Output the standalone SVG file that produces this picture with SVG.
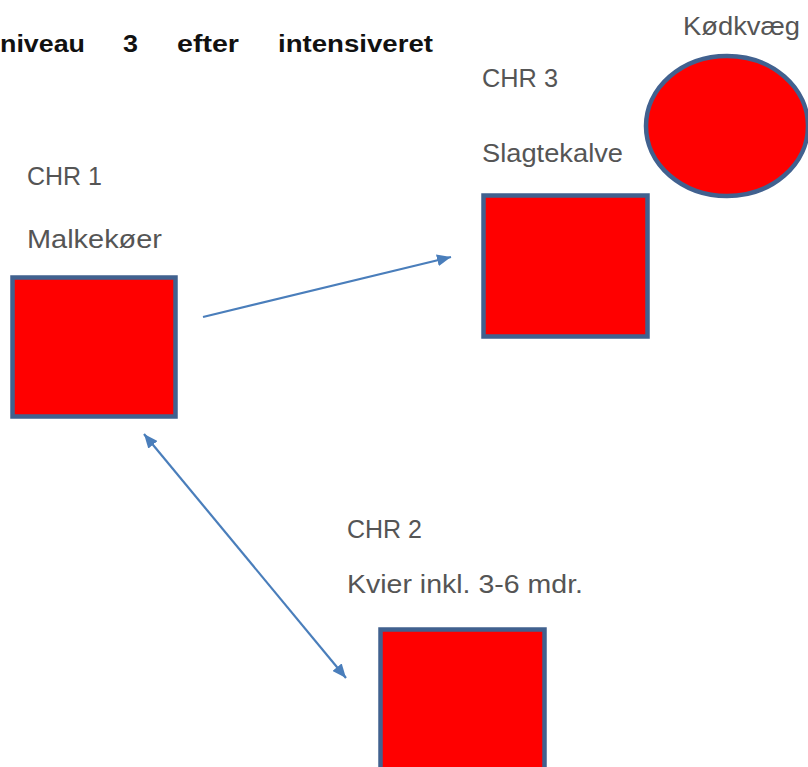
<svg xmlns="http://www.w3.org/2000/svg" width="808" height="767" viewBox="0 0 808 767">
<defs>
<style>
.lbl{font-family:"Liberation Sans","Open Sans",sans-serif;font-size:25px;fill:#555555}
.ttl{font-family:"Liberation Sans",sans-serif;font-size:23px;font-weight:bold;fill:#111}
.box{fill:#ff0000;stroke:#41618F;stroke-width:4.5}
.conn{stroke:#4A7EBB;stroke-width:2.2;fill:none}
</style>
<marker id="ah" viewBox="0 0 14 12" refX="14" refY="6" markerWidth="14" markerHeight="12" markerUnits="userSpaceOnUse" orient="auto-start-reverse">
<path d="M0,0 L14,6 L0,12 z" fill="#4A7EBB"/>
</marker>
</defs>
<rect width="808" height="767" fill="#ffffff"/>
<g id="title">
<text class="ttl" x="0" y="52" textLength="85" lengthAdjust="spacingAndGlyphs">niveau</text>
<text class="ttl" x="123" y="52" textLength="15" lengthAdjust="spacingAndGlyphs">3</text>
<text class="ttl" x="177" y="52" textLength="62" lengthAdjust="spacingAndGlyphs">efter</text>
<text class="ttl" x="278" y="52" textLength="155" lengthAdjust="spacingAndGlyphs">intensiveret</text>
</g>
<g id="connectors">
<line class="conn" x1="203" y1="317" x2="451" y2="257" marker-end="url(#ah)"/>
<line class="conn" x1="144" y1="434" x2="346" y2="678" marker-start="url(#ah)" marker-end="url(#ah)"/>
</g>
<g id="chr1">
<text class="lbl" x="27" y="185" textLength="75" lengthAdjust="spacingAndGlyphs">CHR 1</text>
<text class="lbl" x="27" y="248" textLength="135" lengthAdjust="spacingAndGlyphs">Malkekøer</text>
<rect class="box" x="12.5" y="277.5" width="163" height="139"/>
</g>
<g id="chr3">
<text class="lbl" x="482" y="87" textLength="76" lengthAdjust="spacingAndGlyphs">CHR 3</text>
<text class="lbl" x="482" y="162" textLength="141" lengthAdjust="spacingAndGlyphs">Slagtekalve</text>
<rect class="box" x="483.5" y="195.5" width="164" height="141"/>
</g>
<g id="chr2">
<text class="lbl" x="347" y="538" textLength="75" lengthAdjust="spacingAndGlyphs">CHR 2</text>
<text class="lbl" x="347" y="593" textLength="236" lengthAdjust="spacingAndGlyphs">Kvier inkl. 3-6 mdr.</text>
<rect class="box" x="380.5" y="629.5" width="164" height="150"/>
</g>
<g id="koedkvaeg">
<text class="lbl" x="683" y="35" textLength="117" lengthAdjust="spacingAndGlyphs">Kødkvæg</text>
<ellipse class="box" cx="727" cy="126" rx="81" ry="70"/>
</g>
</svg>
